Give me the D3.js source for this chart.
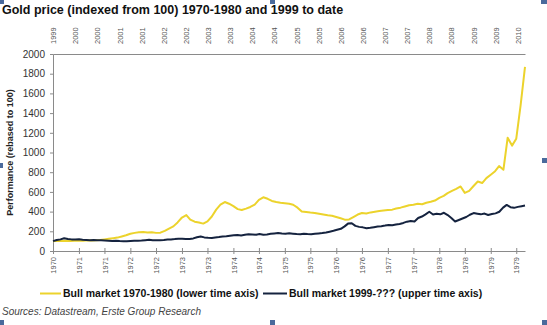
<!DOCTYPE html>
<html>
<head>
<meta charset="utf-8">
<script src="https://cdn.jsdelivr.net/npm/d3@7/dist/d3.min.js"></script>
<style>
  html, body { margin: 0; padding: 0; background: #fff; }
  svg { display: block; font-family: "Liberation Sans", Arial, sans-serif; }
</style>
</head>
<body>
<svg id="chart" width="547" height="325"></svg>
<script>
// Gold price indexed to 100, monthly closes
// 1970s bull market, starting July 1970 (lower time axis)
const start7080 = "1970-07-01";
const gold7080 = [
  100, 103, 101, 104, 102, 104, 106, 105, 108, 107, 110, 112,
  118, 124, 130, 136, 148, 160, 175, 184, 190, 193, 188, 190,
  184, 186, 205, 228, 250, 290, 340, 365, 318, 298, 290, 278,
  300, 350, 420, 470, 497, 480, 455, 425, 416, 430, 447, 470,
  520, 545, 530, 508, 498, 490, 485, 480, 470, 440, 400, 395,
  390, 386, 378, 370, 362, 358, 345, 332, 318, 320, 345, 370,
  386, 380, 392, 398, 405, 410, 416, 420, 432, 440, 452, 465,
  470, 480, 475, 490, 500, 512, 540, 560, 588, 610, 630, 655,
  590, 610, 660, 705, 690, 740, 775, 810, 862, 825, 1150, 1070,
  1140, 1480, 1870
];

// Current bull market, starting July 1999 (upper time axis)
const start99 = "1999-07-01";
const gold99 = [
  100, 112, 118, 130, 122, 118, 116, 120, 114, 112, 110, 112,
  110, 108, 106, 104, 102, 105, 101, 98, 100, 102, 104, 103,
  106, 110, 114, 110, 108, 110, 112, 116, 118, 121, 125, 124,
  121, 123, 128, 140, 148, 138, 134, 132, 137, 142, 148, 150,
  155, 160, 163, 158, 165, 170, 168, 165, 172, 166, 168, 174,
  178, 182, 178, 176, 180, 176, 172, 170, 175, 172, 170, 174,
  178, 182, 188, 196, 205, 215, 225, 250, 278, 282, 255, 245,
  240, 232, 236, 242, 248, 252, 258, 265, 262, 270, 275, 285,
  298, 305, 300, 335, 350, 372, 398, 370, 378, 372, 388, 365,
  335, 300, 315, 330, 345, 368, 385, 378, 372, 380, 365, 375,
  382, 398, 440, 468, 445, 438, 448, 455, 462
];

const yTicks = [0, 200, 400, 600, 800, 1000, 1200, 1400, 1600, 1800, 2000];

const titleText = "Gold price (indexed from 100) 1970-1980 and 1999 to date";
const yTitle = "Performance (rebased to 100)";
const seriesNames = ["Bull market 1970-1980 (lower time axis)", "Bull market 1999-??? (upper time axis)"];
const sourceText = "Sources: Datastream, Erste Group Research";

(function draw() {
  const parse = d3.utcParse("%Y-%m-%d");
  const toSeries = (startStr, vals) => {
    const s = parse(startStr);
    return vals.map((v, i) => ({ date: d3.utcMonth.offset(s, i), value: v }));
  };
  const s7080 = toSeries(start7080, gold7080);
  const s99 = toSeries(start99, gold99);

  const svg = d3.select("#chart");
  const plotLeft = 53, plotRight = 525, plotTop = 54, plotBottom = 251;

  const xLow = d3.scaleUtc()
    .domain([s7080[0].date, s7080[s7080.length - 1].date])
    .range([plotLeft, plotRight]);
  const xHigh = d3.scaleUtc()
    .domain([s99[0].date, s99[s99.length - 1].date])
    .range([plotLeft, plotRight]);
  const y = d3.scaleLinear().domain([0, 2000]).range([plotBottom, plotTop]);

  const yellow = "#ecd32c";
  const navy = "#15233f";
  const axisGrey = "#8a8a8a";
  const labelGrey = "#555";
  const font = "'Liberation Sans', Arial, sans-serif";

  // Title
  svg.append("text")
    .attr("x", 2).attr("y", 13.5)
    .attr("font-size", 12.5).attr("font-weight", "bold").attr("fill", "#111")
    .text(titleText);

  // Left axis
  const gy = svg.append("g").attr("transform", `translate(${plotLeft},0)`)
    .call(d3.axisLeft(y).tickValues(yTicks).tickSize(3).tickPadding(5).tickFormat(d3.format("d")));
  gy.selectAll("path, line").attr("stroke", axisGrey);
  gy.selectAll("text").attr("font-size", 10).attr("fill", "#333").attr("font-family", font);

  // Y axis title
  svg.append("text")
    .attr("transform", `translate(13,${(plotTop + plotBottom) / 2}) rotate(-90)`)
    .attr("text-anchor", "middle")
    .attr("font-size", 9).attr("font-weight", "bold").attr("fill", "#222")
    .text(yTitle);

  // Lower time axis (1970s)
  const lowTicks = d3.utcMonth.every(6).range(s7080[0].date, d3.utcDay.offset(s7080[s7080.length - 1].date, 1));
  const gx = svg.append("g").attr("transform", `translate(0,${plotBottom})`)
    .call(d3.axisBottom(xLow).tickValues(lowTicks).tickSizeOuter(0).tickFormat(d3.utcFormat("%Y")));
  gx.selectAll("path").attr("stroke", axisGrey);
  gx.selectAll("line").attr("stroke", axisGrey).attr("y1", -3).attr("y2", 3);
  gx.selectAll("text")
    .attr("transform", "rotate(-90)")
    .attr("x", -6).attr("y", 0).attr("dy", "0.35em")
    .attr("text-anchor", "end")
    .attr("font-size", 7.5).attr("fill", labelGrey).attr("font-family", font);

  // Upper time axis (1999 onwards)
  const highTicks = d3.utcMonth.every(6).range(s99[0].date, d3.utcDay.offset(s99[s99.length - 1].date, 1));
  const gt = svg.append("g").attr("transform", `translate(0,${plotTop})`)
    .call(d3.axisTop(xHigh).tickValues(highTicks).tickSize(0).tickFormat(d3.utcFormat("%Y")));
  gt.selectAll("path").attr("stroke", axisGrey);
  gt.selectAll("text")
    .attr("transform", "rotate(-90)")
    .attr("x", 10).attr("y", 0).attr("dy", "0.35em")
    .attr("text-anchor", "start")
    .attr("font-size", 7.5).attr("fill", labelGrey).attr("font-family", font);

  // Series lines
  const lineLow = d3.line().x(d => xLow(d.date)).y(d => y(d.value));
  const lineHigh = d3.line().x(d => xHigh(d.date)).y(d => y(d.value));

  svg.append("path").datum(s7080)
    .attr("fill", "none").attr("stroke", yellow).attr("stroke-width", 2)
    .attr("stroke-linejoin", "round").attr("d", lineLow);
  svg.append("path").datum(s99)
    .attr("fill", "none").attr("stroke", navy).attr("stroke-width", 2)
    .attr("stroke-linejoin", "round").attr("d", lineHigh);

  // Legend
  const legend = [
    { name: seriesNames[0], color: yellow, x1: 40, x2: 61, tx: 63 },
    { name: seriesNames[1], color: navy, x1: 263, x2: 287, tx: 289 }
  ];
  const lg = svg.append("g");
  legend.forEach(l => {
    lg.append("line").attr("x1", l.x1).attr("x2", l.x2).attr("y1", 293.5).attr("y2", 293.5)
      .attr("stroke", l.color).attr("stroke-width", 2);
    lg.append("text").attr("x", l.tx).attr("y", 297)
      .attr("font-size", 10.5).attr("font-weight", "bold").attr("fill", "#111")
      .text(l.name);
  });

  // Source note
  svg.append("text")
    .attr("x", 2).attr("y", 314.5)
    .attr("font-size", 10).attr("font-style", "italic").attr("fill", "#444")
    .text(sourceText);

  // Frame corner markers
  const markers = [
    [0, 0, 4, 4], [270, 0, 5, 4], [541, 0, 6, 4],
    [0, 163, 3, 5], [542, 158, 5, 5],
    [0, 320, 4, 5], [270, 320, 5, 5], [542, 320, 5, 5]
  ];
  svg.append("g").selectAll("rect").data(markers).join("rect")
    .attr("x", d => d[0]).attr("y", d => d[1])
    .attr("width", d => d[2]).attr("height", d => d[3])
    .attr("fill", "#4a6a9c");
})();
</script>
</body>
</html>
